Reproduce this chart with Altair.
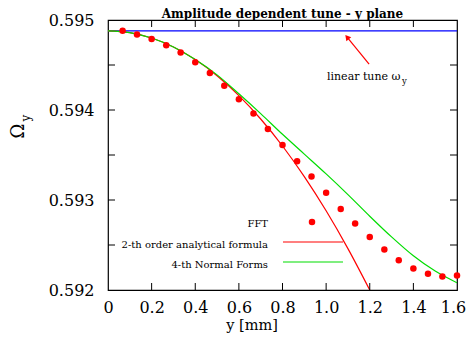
import altair as alt
import pandas as pd

# ---- data ----
x_fft = [0.067, 0.133, 0.200, 0.267, 0.333, 0.400, 0.467, 0.533, 0.600, 0.667, 0.733, 0.800,
         0.867, 0.933, 1.000, 1.067, 1.133, 1.200, 1.267, 1.333, 1.400, 1.467, 1.533, 1.600]
omega_fft = [0.59488, 0.59484, 0.59479, 0.59472, 0.59464, 0.59453, 0.59441, 0.59427, 0.59412,
             0.59396, 0.59379, 0.59361, 0.59343, 0.59326, 0.59308, 0.59290, 0.59274, 0.59259,
             0.59245, 0.59233, 0.59224, 0.59218, 0.59215, 0.59216]

x_2nd = [0.0, 0.1, 0.2, 0.3, 0.4, 0.5, 0.6, 0.7, 0.8, 0.9, 1.0, 1.1, 1.2]
omega_2nd = [0.59488, 0.59486, 0.59480, 0.59470, 0.59456, 0.59438, 0.59416, 0.59390, 0.59360,
             0.59326, 0.59288, 0.59246, 0.59200]

x_nf = [0.0, 0.1, 0.2, 0.3, 0.4, 0.5, 0.6, 0.7, 0.8, 0.9, 1.0, 1.1, 1.2, 1.3, 1.4, 1.5, 1.6]
omega_nf = [0.59488, 0.59486, 0.59480, 0.59470, 0.59456, 0.59439, 0.59418, 0.59396, 0.59373,
            0.59351, 0.59329, 0.59306, 0.59282, 0.59259, 0.59238, 0.59221, 0.59208]

linear_tune = 0.59488

x_tick_values = [0.2, 0.4, 0.6, 0.8, 1.0, 1.2, 1.4]
y_tick_values = [0.5925, 0.593, 0.5935, 0.594, 0.5945]
x_label_values = [0, 0.2, 0.4, 0.6, 0.8, 1.0, 1.2, 1.4, 1.6]
y_label_values = [0.592, 0.593, 0.594, 0.595]

title_text = "Amplitude dependent tune - y plane"
legend_labels = ["FFT", "2-th order analytical formula", "4-th Normal Forms"]
annot_text = "linear tune \u03c9"
arrow_x = [1.197, 1.096]
arrow_y = [0.594511, 0.594811]

# ---- chart ----
W, H = 349, 270
FONT = "DejaVu Serif"
xs = alt.Scale(domain=[0, 1.6], nice=False, zero=False)
ys = alt.Scale(domain=[0.592, 0.595], nice=False, zero=False)

fft_df = pd.DataFrame({"x": x_fft, "y": omega_fft})
nd_df = pd.DataFrame({"x": x_2nd, "y": omega_2nd})
nf_df = pd.DataFrame({"x": x_nf, "y": omega_nf})

xaxis = alt.Axis(values=x_label_values, labelExpr="datum.value == 0 ? '0' : format(datum.value, '.1f')",
                 ticks=False, domain=False, grid=False, labelFont=FONT, labelFontSize=16,
                 labelColor="black", labelPadding=9, title=None, labelFlush=False,
                 labelOffset={"condition": {"test": "datum.value >= 1.59", "value": -4}, "value": 0})
yaxis = alt.Axis(values=y_label_values, format=".3f", ticks=False, domain=False, grid=False,
                 labelFont=FONT, labelFontSize=16, labelColor="black", labelPadding=14,
                 title=None)

points = alt.Chart(fft_df).mark_circle(size=42, color="#ff0000", opacity=1).encode(
    x=alt.X("x:Q", scale=xs, axis=xaxis),
    y=alt.Y("y:Q", scale=ys, axis=yaxis),
)

red_line = alt.Chart(nd_df).mark_line(color="#ff0000", strokeWidth=1.2, clip=True,
                                      interpolate="monotone").encode(
    x=alt.X("x:Q", scale=xs), y=alt.Y("y:Q", scale=ys))
green_line = alt.Chart(nf_df).mark_line(color="#00dd00", strokeWidth=1.2, clip=True,
                                        interpolate="monotone").encode(
    x=alt.X("x:Q", scale=xs), y=alt.Y("y:Q", scale=ys))

blue_line = alt.Chart(pd.DataFrame({"y": [linear_tune]})).mark_rule(color="#0000ff", strokeWidth=1.2).encode(
    y=alt.Y("y:Q", scale=ys))

# inward tick marks
xt = pd.DataFrame({"x": x_tick_values})
yt = pd.DataFrame({"y": y_tick_values})
tick_bottom = alt.Chart(xt).mark_rule(color="black").encode(
    x=alt.X("x:Q", scale=xs), y=alt.value(H), y2=alt.value(H - 7))
tick_top = alt.Chart(xt).mark_rule(color="black").encode(
    x=alt.X("x:Q", scale=xs), y=alt.value(0), y2=alt.value(7))
tick_left = alt.Chart(yt).mark_rule(color="black").encode(
    y=alt.Y("y:Q", scale=ys), x=alt.value(0), x2=alt.value(7))
tick_right = alt.Chart(yt).mark_rule(color="black").encode(
    y=alt.Y("y:Q", scale=ys), x=alt.value(W), x2=alt.value(W - 7))

# arrow annotation
arrow_df = pd.DataFrame({"x": [arrow_x[0]], "y": [arrow_y[0]], "x2": [arrow_x[1]], "y2": [arrow_y[1]]})
arrow = alt.Chart(arrow_df).mark_rule(color="#ff0000", strokeWidth=1.2).encode(
    x=alt.X("x:Q", scale=xs), y=alt.Y("y:Q", scale=ys), x2="x2:Q", y2="y2:Q")
head = alt.Chart(pd.DataFrame({"x": [arrow_x[1]], "y": [arrow_y[1]]})).mark_point(
    shape="triangle-up", filled=True, color="#ff0000", size=40, angle=321, opacity=1).encode(
    x=alt.X("x:Q", scale=xs), y=alt.Y("y:Q", scale=ys))

annot = alt.Chart(pd.DataFrame({"t": [annot_text]})).mark_text(
    font=FONT, fontSize=11, align="left", baseline="alphabetic", color="black").encode(
    x=alt.value(219), y=alt.value(60), text="t:N")
annot_sub = alt.Chart(pd.DataFrame({"t": ["y"]})).mark_text(
    font=FONT, fontSize=8.5, align="left", baseline="alphabetic", color="black").encode(
    x=alt.value(294), y=alt.value(64), text="t:N")

title = alt.Chart(pd.DataFrame({"t": [title_text]})).mark_text(
    font=FONT, fontSize=12, fontWeight="bold", align="center", baseline="alphabetic", color="black").encode(
    x=alt.value(W / 2), y=alt.value(-2), text="t:N")

xtitle = alt.Chart(pd.DataFrame({"t": ["y [mm]"]})).mark_text(
    font=FONT, fontSize=14.5, align="center", baseline="middle", color="black").encode(
    x=alt.value(144), y=alt.value(306), text="t:N")
ytitle = alt.Chart(pd.DataFrame({"t": ["\u03a9"]})).mark_text(
    font=FONT, fontSize=18, align="center", baseline="middle", angle=270, color="black").encode(
    x=alt.value(-89), y=alt.value(111), text="t:N")
ytitle_sub = alt.Chart(pd.DataFrame({"t": ["y"]})).mark_text(
    font=FONT, fontSize=12, align="center", baseline="middle", angle=270, color="black").encode(
    x=alt.value(-82), y=alt.value(98), text="t:N")

# manual legend
leg_text = alt.Chart(pd.DataFrame({"t": legend_labels, "yy": [204, 225, 245]})).mark_text(
    font=FONT, fontSize=10, align="right", baseline="middle", color="black").encode(
    x=alt.value(160), y=alt.Y("yy:Q", scale=None), text="t:N")
leg_dot = alt.Chart(pd.DataFrame({"a": [1]})).mark_circle(size=42, color="#ff0000", opacity=1).encode(
    x=alt.value(204), y=alt.value(202))
leg_red = alt.Chart(pd.DataFrame({"a": [1]})).mark_rule(color="#ff0000", strokeWidth=1.2).encode(
    x=alt.value(175), x2=alt.value(235), y=alt.value(222))
leg_green = alt.Chart(pd.DataFrame({"a": [1]})).mark_rule(color="#00dd00", strokeWidth=1.2).encode(
    x=alt.value(175), x2=alt.value(235), y=alt.value(242))

chart = alt.layer(
    blue_line, red_line, green_line, points,
    tick_bottom, tick_top, tick_left, tick_right,
    arrow, head, annot, annot_sub, title, xtitle, ytitle, ytitle_sub,
    leg_text, leg_dot, leg_red, leg_green,
).properties(
    width=W, height=H,
    autosize=alt.AutoSizeParams(type="none"),
    padding={"left": 100, "top": 12, "right": 9, "bottom": 50},
    background="white",
).configure_view(stroke="black", strokeWidth=1.2)

chart.save("out.html", embed_options={"renderer": "svg", "actions": False})
